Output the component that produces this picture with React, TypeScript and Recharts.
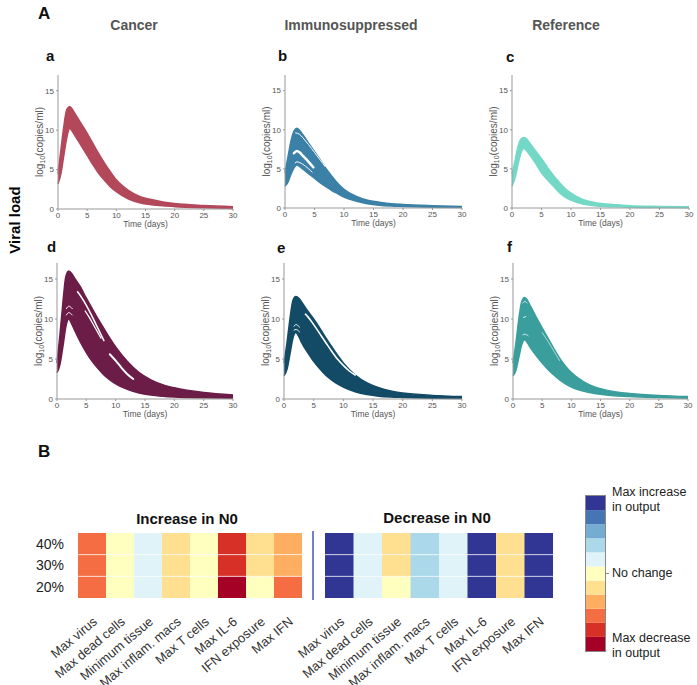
import {
  ComposedChart,
  Area,
  Line,
  XAxis,
  YAxis,
  BarChart,
  Bar,
  Cell,
  ReferenceLine,
} from 'recharts'

const FONT = '"Liberation Sans", Arial, sans-serif'

// sample times (days) for the trajectory envelopes
const TIME = [0, 0.5, 1, 1.5, 2, 2.5, 3, 4, 5, 6, 7, 8, 9, 10, 12, 14, 16, 18, 20, 25, 30]
const X_TICKS = [0, 5, 10, 15, 20, 25, 30]
const Y_TICKS = [0, 5, 10, 15]

// upper / lower edge of the bundle of trajectories, log10(copies/ml)
const A_HI = [4.5, 7.5, 10.5, 12.6, 13.0, 12.6, 12.0, 10.8, 9.6, 8.3, 7.0, 5.8, 4.7, 3.7, 2.4, 1.6, 1.2, 0.9, 0.7, 0.45, 0.3]
const A_LO = [3.2, 4.5, 6.8, 9.0, 10.2, 9.8, 9.2, 8.0, 6.8, 5.6, 4.5, 3.6, 2.8, 2.2, 1.3, 0.8, 0.55, 0.4, 0.3, 0.15, 0.05]
const B_HI = [4.5, 6.5, 8.5, 9.8, 10.2, 9.9, 9.4, 8.3, 7.2, 6.1, 5.0, 4.0, 3.1, 2.4, 1.5, 1.0, 0.75, 0.55, 0.45, 0.3, 0.2]
const B_LO = [2.8, 3.3, 4.3, 5.1, 5.5, 5.3, 5.0, 4.4, 3.8, 3.2, 2.7, 2.2, 1.8, 1.4, 0.9, 0.55, 0.35, 0.25, 0.2, 0.1, 0.05]
const C_HI = [4.3, 6.0, 7.8, 8.8, 9.0, 8.8, 8.3, 7.3, 6.3, 5.2, 4.2, 3.3, 2.5, 1.9, 1.1, 0.7, 0.5, 0.4, 0.3, 0.2, 0.15]
const C_LO = [2.8, 3.8, 5.5, 7.0, 7.6, 7.3, 6.8, 5.7, 4.5, 3.6, 2.8, 2.0, 1.4, 1.0, 0.5, 0.3, 0.2, 0.15, 0.1, 0.06, 0.04]
const D_HI = [4.5, 8.0, 12.0, 15.3, 16.0, 15.7, 15.1, 14.0, 12.6, 11.3, 10.0, 8.8, 7.6, 6.5, 4.7, 3.3, 2.4, 1.8, 1.4, 0.8, 0.5]
const D_LO = [3.3, 4.3, 6.5, 9.0, 10.0, 9.4, 8.6, 7.1, 5.8, 4.7, 3.8, 3.0, 2.4, 1.9, 1.2, 0.75, 0.5, 0.35, 0.25, 0.15, 0.1]
const E_HI = [4.5, 7.0, 10.0, 12.3, 12.8, 12.6, 12.1, 11.0, 10.0, 8.9, 7.7, 6.6, 5.5, 4.5, 3.0, 2.0, 1.4, 1.0, 0.75, 0.45, 0.3]
const E_LO = [2.9, 3.7, 5.6, 7.6, 8.3, 7.8, 7.0, 5.8, 4.7, 3.8, 3.0, 2.4, 1.9, 1.5, 0.9, 0.55, 0.35, 0.25, 0.2, 0.1, 0.05]
const F_HI = [4.5, 7.0, 10.0, 12.2, 12.7, 12.3, 11.6, 10.2, 8.9, 7.6, 6.3, 5.1, 4.1, 3.3, 2.2, 1.5, 1.1, 0.85, 0.7, 0.45, 0.3]
const F_LO = [2.9, 3.6, 5.2, 6.8, 7.4, 7.0, 6.4, 5.4, 4.5, 3.7, 3.0, 2.4, 1.9, 1.5, 1.0, 0.7, 0.5, 0.38, 0.3, 0.18, 0.1]

type Gap = { t: number[]; v: number[]; w: number }

// white gaps between clusters of trajectories
const B_GAPS: Gap[] = [
  { t: [1.8, 2.5, 3, 4, 5, 6, 6.8], v: [9.6, 9.4, 9.0, 8.1, 7.1, 6.1, 5.3], w: 1 },
  { t: [1.5, 2, 2.5, 3, 4, 4.8], v: [7.0, 7.3, 7.1, 6.7, 5.9, 5.2], w: 2.5 },
  { t: [1.7, 2, 3, 4, 4.6], v: [5.75, 5.9, 5.6, 5.0, 4.6], w: 1 },
]
const D_GAPS: Gap[] = [
  { t: [3.5, 4, 5, 6, 7, 8], v: [13.4, 12.9, 11.7, 10.3, 8.8, 7.3], w: 1.5 },
  { t: [4.8, 5.5, 6.5, 7.5], v: [11.0, 10.2, 8.9, 7.6], w: 1.3 },
  { t: [9, 10, 11, 12, 13], v: [5.6, 4.8, 3.9, 3.1, 2.5], w: 2 },
  { t: [1.6, 2, 2.6], v: [11.3, 11.6, 11.3], w: 1 },
  { t: [1.6, 2, 2.6], v: [10.5, 10.8, 10.5], w: 1 },
]
const E_GAPS: Gap[] = [
  { t: [3.6, 4, 5, 6, 7, 8, 9, 10, 11, 12], v: [10.6, 10.3, 9.3, 8.2, 7.1, 6.0, 5.0, 4.2, 3.5, 3.0], w: 1.6 },
  { t: [1.7, 2, 2.6], v: [9.1, 9.3, 9.0], w: 1 },
  { t: [1.7, 2, 2.6], v: [8.6, 8.7, 8.4], w: 1 },
]
const F_GAPS: Gap[] = [
  { t: [1.7, 2, 2.4], v: [12.0, 12.2, 12.0], w: 0.8 },
  { t: [1.8, 2.2], v: [10.2, 10.3], w: 0.8 },
  { t: [1.7, 2, 2.6], v: [8.0, 8.1, 7.9], w: 0.8 },
  { t: [5, 6, 7, 8], v: [8.3, 7.2, 6.0, 4.8], w: 0.6 },
]

// heatmap
const HEAT_COLS = ['Max virus', 'Max dead cells', 'Minimum tissue', 'Max inflam. macs', 'Max T cells', 'Max IL-6', 'IFN exposure', 'Max IFN']
const ROW_LABELS = ['20%', '30%', '40%']
// level 0 = max increase in output ... 10 = max decrease in output
const LEVEL_COLORS = ['#313695', '#4575b4', '#74add1', '#abd9e9', '#e0f3f8', '#ffffbf', '#fee090', '#fdae61', '#f46d43', '#d73027', '#a50026']
const INC_20 = [8, 5, 4, 6, 5, 10, 5, 8]
const INC_30 = [8, 5, 4, 6, 5, 9, 6, 7]
const INC_40 = [8, 5, 4, 6, 5, 9, 6, 7]
const DEC_20 = [0, 4, 5, 3, 4, 0, 6, 0]
const DEC_30 = [0, 4, 6, 3, 4, 0, 6, 0]
const DEC_40 = [0, 4, 6, 3, 4, 0, 6, 0]

function Txt({ x, y, size, bold, color = '#111', center, children }: any) {
  return (
    <div
      style={{
        position: 'absolute',
        left: x,
        top: y,
        transform: center ? 'translate(-50%, -50%)' : 'translate(0, -50%)',
        fontSize: size,
        fontWeight: bold ? 700 : 400,
        color,
        whiteSpace: 'nowrap',
        lineHeight: 1,
      }}
    >
      {children}
    </div>
  )
}

function YLabel(props: any) {
  const vb = props.viewBox
  const cx = vb.x + vb.width - 15
  const cy = vb.y + vb.height / 2
  return (
    <text transform={`rotate(-90, ${cx}, ${cy})`} x={cx} y={cy} textAnchor="middle" fontSize={10} fill="#555">
      log<tspan fontSize={7} dy={2}>10</tspan>
      <tspan dy={-2}>(copies/ml)</tspan>
    </text>
  )
}

function XLabel(props: any) {
  const vb = props.viewBox
  return (
    <text x={vb.x + vb.width / 2} y={vb.y + 18} textAnchor="middle" fontSize={8.5} fill="#555">
      Time (days)
    </text>
  )
}

function Panel({ x, y, w, h, hi, lo, color, gaps }: any) {
  const rows = TIME.map((t, i) => ({ t, band: [lo[i], hi[i]] }))
  return (
    <div style={{ position: 'absolute', left: x - 42, top: y - 8 }}>
      <ComposedChart width={w + 50} height={h + 36} data={rows} margin={{ top: 8, right: 8, left: 2, bottom: 0 }}>
        <XAxis
          dataKey="t"
          type="number"
          domain={[0, 30]}
          ticks={X_TICKS}
          height={28}
          stroke="#999"
          tickSize={2}
          tickMargin={1}
          tick={{ fontSize: 8, fill: '#555' }}
          label={<XLabel />}
        />
        <YAxis
          type="number"
          domain={[0, 17]}
          ticks={Y_TICKS}
          width={40}
          stroke="#999"
          tickSize={2}
          tickMargin={2}
          tick={{ fontSize: 8, fill: '#555' }}
          label={<YLabel />}
        />
        <Area
          dataKey="band"
          type="monotone"
          stroke={color}
          strokeWidth={1.5}
          fill={color}
          fillOpacity={1}
          isAnimationActive={false}
        />
        {gaps.map((g: Gap, i: number) => (
          <Line
            key={i}
            data={g.t.map((t, j) => ({ t, v: g.v[j] }))}
            dataKey="v"
            type="monotone"
            stroke="#fff"
            strokeWidth={g.w}
            strokeLinecap="round"
            dot={false}
            isAnimationActive={false}
          />
        ))}
      </ComposedChart>
    </div>
  )
}

function HeatTick(props: any) {
  const { x, y, payload } = props
  const ax = x + 6
  const ay = y + 17
  return (
    <text x={ax} y={ay} transform={`rotate(-40, ${ax}, ${ay})`} textAnchor="end" fontSize={13} fill="#333">
      {payload.value}
    </text>
  )
}

function Heat({ x, y, w, rows, showRows }: any) {
  const data = HEAT_COLS.map((name) => ({ name, r20: 1, r30: 1, r40: 1 }))
  const yw = showRows ? 50 : 0
  const pad = showRows ? 0 : 50
  return (
    <div style={{ position: 'absolute', left: x - yw - pad, top: y }}>
      <BarChart
        width={w + yw + pad}
        height={65 + 115}
        data={data}
        barCategoryGap={0}
        margin={{ top: 0, right: 0, left: pad, bottom: 0 }}
      >
        <XAxis dataKey="name" height={115} axisLine={false} tickLine={false} interval={0} tick={<HeatTick />} />
        <YAxis
          type="number"
          domain={[0, 3]}
          ticks={[0.5, 1.5, 2.5]}
          width={yw}
          hide={!showRows}
          axisLine={false}
          tickLine={false}
          tickMargin={8}
          tickFormatter={(v: number) => ROW_LABELS[Math.floor(v)]}
          tick={{ fontSize: 14, fill: '#222' }}
        />
        {['r20', 'r30', 'r40'].map((k, ri) => (
          <Bar key={k} dataKey={k} stackId="s" isAnimationActive={false}>
            {rows[ri].map((lvl: number, i: number) => (
              <Cell key={i} fill={LEVEL_COLORS[lvl]} />
            ))}
          </Bar>
        ))}
        <ReferenceLine y={1} stroke="#fff" strokeOpacity={0.7} />
        <ReferenceLine y={2} stroke="#fff" strokeOpacity={0.7} />
      </BarChart>
    </div>
  )
}

function ColorBar() {
  const levels = LEVEL_COLORS.map((_, i) => i).reverse()
  const row: any = {}
  levels.forEach((l) => (row['l' + l] = 1))
  return (
    <div style={{ position: 'absolute', left: 585, top: 495, border: '1px solid #888', lineHeight: 0 }}>
      <BarChart width={19} height={155} data={[row]} barCategoryGap={0} margin={{ top: 0, right: 0, left: 0, bottom: 0 }}>
        <XAxis hide />
        <YAxis hide domain={[0, 11]} />
        {levels.map((l) => (
          <Bar key={l} dataKey={'l' + l} stackId="c" fill={LEVEL_COLORS[l]} isAnimationActive={false} />
        ))}
      </BarChart>
    </div>
  )
}

export default function App() {
  return (
    <div
      style={{
        position: 'absolute',
        left: 0,
        top: 0,
        width: 697,
        height: 685,
        background: '#fff',
        fontFamily: FONT,
        overflow: 'hidden',
      }}
    >
      <Txt x={38} y={13} size={17} bold>A</Txt>
      <Txt x={134} y={25} size={14} bold color="#555" center>Cancer</Txt>
      <Txt x={351} y={25} size={14} bold color="#555" center>Immunosuppressed</Txt>
      <Txt x={566} y={25} size={14} bold color="#555" center>Reference</Txt>

      <Txt x={46} y={55} size={15} bold>a</Txt>
      <Txt x={278} y={55} size={15} bold>b</Txt>
      <Txt x={506} y={56} size={15} bold>c</Txt>
      <Txt x={47} y={246} size={15} bold>d</Txt>
      <Txt x={277} y={247} size={15} bold>e</Txt>
      <Txt x={507} y={246} size={15} bold>f</Txt>

      <div
        style={{
          position: 'absolute',
          left: 14,
          top: 220,
          transform: 'translate(-50%, -50%) rotate(-90deg)',
          fontSize: 15,
          fontWeight: 700,
          whiteSpace: 'nowrap',
          lineHeight: 1,
        }}
      >
        Viral load
      </div>

      <Panel x={58} y={75} w={175} h={134} hi={A_HI} lo={A_LO} color="#B3485B" gaps={[]} />
      <Panel x={285} y={75} w={177} h={133} hi={B_HI} lo={B_LO} color="#3B80A6" gaps={B_GAPS} />
      <Panel x={512} y={75} w={177} h={133} hi={C_HI} lo={C_LO} color="#74D8C7" gaps={[]} />
      <Panel x={57} y={263} w={176} h={136} hi={D_HI} lo={D_LO} color="#6B1D48" gaps={D_GAPS} />
      <Panel x={284} y={263} w={178} h={136} hi={E_HI} lo={E_LO} color="#134A66" gaps={E_GAPS} />
      <Panel x={513} y={263} w={175} h={136} hi={F_HI} lo={F_LO} color="#3A9E9C" gaps={F_GAPS} />

      <Txt x={38} y={451} size={17} bold>B</Txt>
      <Txt x={187} y={518} size={15} bold center>Increase in N0</Txt>
      <Txt x={437} y={517} size={15} bold center>Decrease in N0</Txt>

      <Heat x={78} y={533} w={224} rows={[INC_20, INC_30, INC_40]} showRows />
      <div style={{ position: 'absolute', left: 312, top: 531, width: 2, height: 69, background: '#6F84C8' }} />
      <Heat x={325} y={533} w={228} rows={[DEC_20, DEC_30, DEC_40]} />

      <ColorBar />
      <div style={{ position: 'absolute', left: 605, top: 573, width: 4, height: 1, background: '#888' }} />
      <Txt x={612} y={492} size={12.5} color="#222">Max increase</Txt>
      <Txt x={612} y={507} size={12.5} color="#222">in output</Txt>
      <Txt x={612} y={573} size={12.5} color="#222">No change</Txt>
      <Txt x={612} y={638} size={12.5} color="#222">Max decrease</Txt>
      <Txt x={612} y={653} size={12.5} color="#222">in output</Txt>
    </div>
  )
}
